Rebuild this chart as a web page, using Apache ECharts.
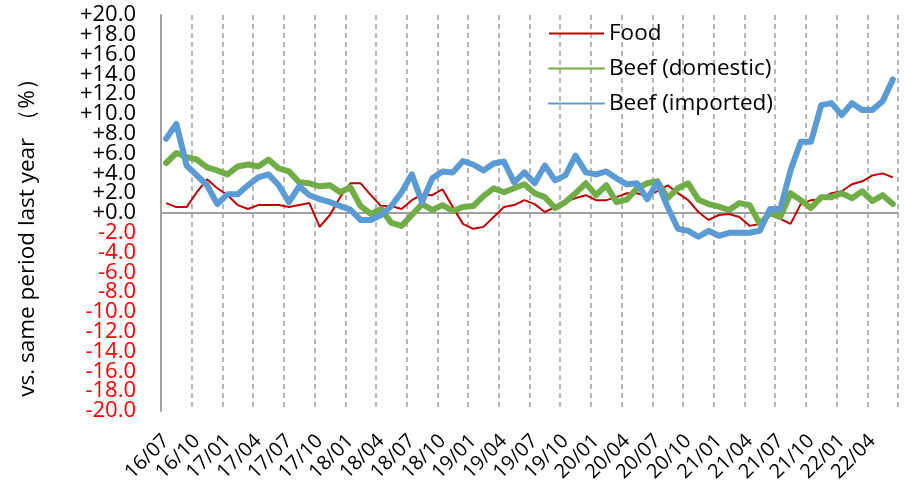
<!DOCTYPE html>
<html>
<head>
<meta charset="utf-8">
<script src="https://cdn.jsdelivr.net/npm/echarts@6/dist/echarts.min.js"></script>
<style>
html,body{margin:0;padding:0;background:#fff;}
#chart{width:905px;height:497px;}
</style>
</head>
<body>
<div id="chart"></div>
<script>
var categories = [
 '16/07','16/08','16/09','16/10','16/11','16/12',
 '17/01','17/02','17/03','17/04','17/05','17/06','17/07','17/08','17/09','17/10','17/11','17/12',
 '18/01','18/02','18/03','18/04','18/05','18/06','18/07','18/08','18/09','18/10','18/11','18/12',
 '19/01','19/02','19/03','19/04','19/05','19/06','19/07','19/08','19/09','19/10','19/11','19/12',
 '20/01','20/02','20/03','20/04','20/05','20/06','20/07','20/08','20/09','20/10','20/11','20/12',
 '21/01','21/02','21/03','21/04','21/05','21/06','21/07','21/08','21/09','21/10','21/11','21/12',
 '22/01','22/02','22/03','22/04','22/05','22/06'
];
var food = [
 1.0, 0.6, 0.6, 2.1, 3.4, 2.5, 1.8, 0.8, 0.4, 0.8, 0.8, 0.8,
 0.6, 0.8, 1.0, -1.4, -0.2, 1.6, 3.0, 3.0, 1.8, 0.7, 0.7, 0.4,
 1.3, 1.85, 1.8, 2.4, 0.6, -1.1, -1.6, -1.4, -0.4, 0.6, 0.8, 1.3,
 0.9, 0.1, 0.6, 1.1, 1.5, 1.8, 1.3, 1.3, 1.6, 2.0, 2.0, 1.7,
 2.2, 2.8, 2.0, 1.3, 0.1, -0.7, -0.2, -0.1, -0.4, -1.3, -1.1, -0.2,
 -0.6, -1.1, 0.9, 1.3, 1.4, 2.0, 2.2, 2.9, 3.2, 3.8, 4.0, 3.6
];
var beefDomestic = [
 5.05, 6.06, 5.65, 5.4, 4.6, 4.3, 3.9, 4.7, 4.9, 4.7, 5.4, 4.5,
 4.2, 3.1, 3.0, 2.7, 2.8, 2.1, 2.6, 0.7, -0.1, 0.4, -1.0, -1.3,
 -0.2, 0.9, 0.3, 0.8, 0.2, 0.6, 0.7, 1.7, 2.5, 2.1, 2.5, 2.9,
 2.0, 1.6, 0.5, 1.1, 2.0, 3.0, 1.8, 2.8, 1.1, 1.35, 2.5, 3.0,
 3.2, 1.5, 2.5, 3.0, 1.35, 0.9, 0.65, 0.3, 1.0, 0.8, -1.1, 0.0,
 -0.4, 2.0, 1.3, 0.5, 1.6, 1.6, 2.0, 1.5, 2.2, 1.2, 1.8, 0.9
];
var beefImported = [
 7.5, 9.0, 4.8, 3.8, 2.8, 0.9, 1.9, 1.9, 2.8, 3.6, 3.9, 2.8,
 1.1, 2.7, 1.8, 1.4, 1.1, 0.7, 0.35, -0.7, -0.7, -0.2, 0.7, 2.1,
 3.9, 1.1, 3.5, 4.2, 4.1, 5.25, 4.9, 4.3, 5.0, 5.2, 3.1, 4.1,
 3.0, 4.8, 3.3, 3.8, 5.8, 4.1, 3.9, 4.2, 3.5, 2.9, 3.0, 1.4,
 3.1, 0.6, -1.6, -1.8, -2.4, -1.8, -2.3, -2.0, -2.0, -2.0, -1.8, 0.4,
 0.4, 4.3, 7.2, 7.2, 10.9, 11.1, 9.9, 11.1, 10.4, 10.4, 11.3, 13.5
];
var seriesNames = ['Food', 'Beef (domestic)', 'Beef (imported)'];
var yAxisTitle = 'vs. same period last year （%）';
var yMin = -20, yMax = 20, yStep = 2;

var FONT = '"Open Sans", "Noto Sans", sans-serif';
function fmt(v) { return (v >= 0 ? '+' : '') + v.toFixed(1); }
function labelColor(v) { return Number(v) < 0 ? '#ff0000' : '#000000'; }

var chart = echarts.init(document.getElementById('chart'), null, {renderer: 'canvas'});
chart.setOption({
  animation: false,
  backgroundColor: '#ffffff',
  textStyle: {fontFamily: FONT},
  grid: {left: 161, right: 7, top: 15, bottom: 86, containLabel: false},
  legend: {
    orient: 'vertical',
    left: 548,
    top: 22,
    padding: 0,
    itemWidth: 55,
    itemHeight: 22,
    itemGap: 12,
    itemStyle: {opacity: 0},
    textStyle: {fontSize: 22.5, color: '#000', fontFamily: FONT},
    data: seriesNames
  },
  graphic: [{
    type: 'text',
    x: 28,
    y: 232,
    rotation: Math.PI / 2,
    style: {
      text: yAxisTitle,
      fontSize: 22.5,
      fontFamily: FONT,
      fill: '#000',
      align: 'center',
      verticalAlign: 'middle'
    }
  }],
  xAxis: [{
    type: 'category',
    data: categories,
    boundaryGap: true,
    axisLine: {show: false, onZero: false},
    axisTick: {show: false},
    axisLabel: {
      interval: 2,
      rotate: 45,
      fontSize: 20,
      color: '#000',
      fontFamily: FONT,
      margin: 27
    },
    splitLine: {
      show: true,
      interval: 2,
      lineStyle: {color: '#a0a0a0', width: 1.5, type: [5, 4]}
    }
  }, {
    type: 'category',
    data: categories,
    boundaryGap: true,
    position: 'bottom',
    axisLine: {show: true, onZero: true, onZeroAxisIndex: 0, lineStyle: {color: '#a0a0a0', width: 2}},
    axisTick: {show: false},
    axisLabel: {show: false},
    splitLine: {show: false}
  }],
  yAxis: [{
    type: 'value',
    min: yMin,
    max: yMax,
    interval: yStep,
    position: 'left',
    axisLine: {show: true, lineStyle: {color: '#a0a0a0', width: 2}},
    axisTick: {show: false},
    splitLine: {show: false},
    axisLabel: {
      fontSize: 22,
      fontFamily: FONT,
      margin: 25,
      showMinLabel: false,
      showMaxLabel: false,
      formatter: fmt,
      color: labelColor
    }
  }, {
    type: 'value',
    min: yMin,
    max: yMax,
    interval: yStep,
    position: 'left',
    axisLine: {show: false},
    axisTick: {show: false},
    splitLine: {show: false},
    axisLabel: {
      fontSize: 22,
      fontFamily: FONT,
      margin: 25,
      showMinLabel: true,
      showMaxLabel: true,
      formatter: function (v) { return (v === yMin || v === yMax) ? fmt(v) : ''; },
      color: labelColor
    }
  }],
  series: [{
    name: seriesNames[0],
    type: 'line',
    data: food,
    symbol: 'none',
    color: '#c00000',
    lineStyle: {width: 2, color: '#c00000'},
    z: 3
  }, {
    name: seriesNames[1],
    type: 'line',
    data: beefDomestic,
    symbol: 'none',
    color: '#70ad47',
    lineStyle: {width: 6, color: '#70ad47', cap: 'round', join: 'round'},
    z: 4
  }, {
    name: seriesNames[2],
    type: 'line',
    data: beefImported,
    symbol: 'none',
    color: '#5b9bd5',
    lineStyle: {width: 6, color: '#5b9bd5', cap: 'round', join: 'round'},
    z: 5
  }]
});
</script>
</body>
</html>
